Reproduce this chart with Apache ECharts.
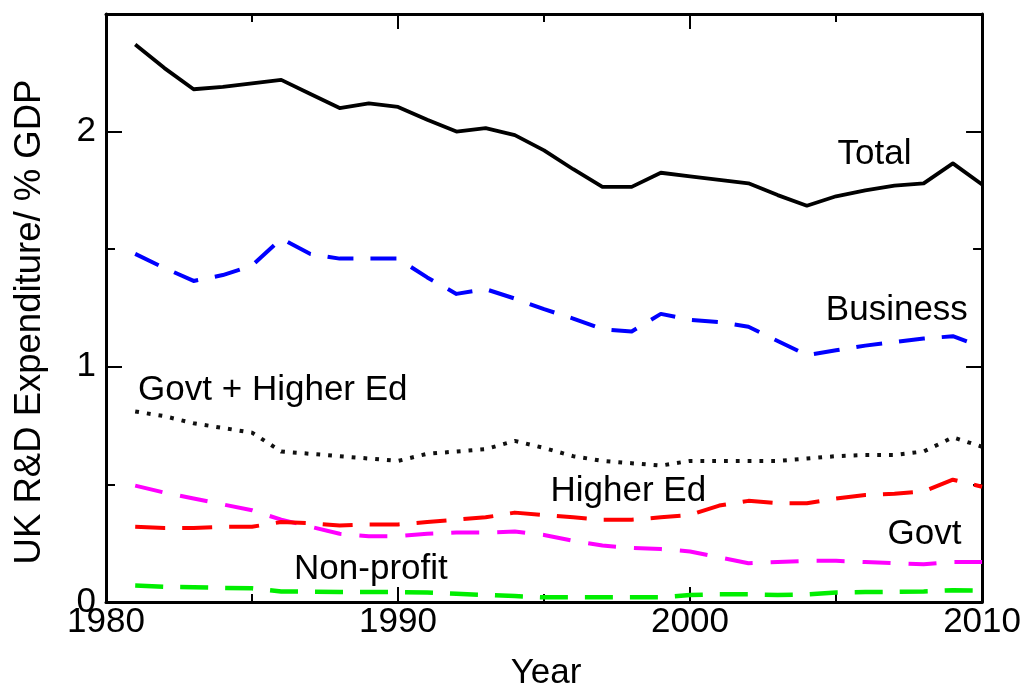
<!DOCTYPE html>
<html>
<head>
<meta charset="utf-8">
<script src="https://cdn.jsdelivr.net/npm/echarts@6/dist/echarts.min.js"></script>
<style>
html,body{margin:0;padding:0;background:#fff;}
#c{width:1024px;height:688px;}
</style>
</head>
<body>
<div id="c"></div>
<script>
const years = [1981,1982,1983,1984,1985,1986,1987,1988,1989,1990,1991,1992,1993,1994,1995,1996,1997,1998,1999,2000,2001,2002,2003,2004,2005,2006,2007,2008,2009,2010];
const total    = [2.37,2.27,2.18,2.19,2.205,2.22,2.16,2.10,2.12,2.105,2.05,2.00,2.015,1.985,1.92,1.84,1.765,1.765,1.825,1.81,1.795,1.78,1.73,1.685,1.725,1.75,1.77,1.78,1.865,1.775];
const business = [1.48,1.42,1.365,1.39,1.43,1.545,1.48,1.46,1.46,1.46,1.38,1.31,1.33,1.29,1.245,1.205,1.16,1.15,1.225,1.20,1.19,1.17,1.11,1.05,1.07,1.09,1.105,1.12,1.13,1.085];
const govtHE   = [0.81,0.79,0.76,0.74,0.72,0.64,0.63,0.62,0.61,0.60,0.63,0.64,0.65,0.685,0.655,0.62,0.60,0.59,0.58,0.60,0.60,0.60,0.60,0.61,0.62,0.625,0.625,0.64,0.70,0.66];
const govt     = [0.495,0.465,0.44,0.415,0.39,0.35,0.32,0.29,0.28,0.28,0.29,0.295,0.295,0.30,0.285,0.26,0.24,0.23,0.225,0.215,0.19,0.165,0.17,0.175,0.175,0.17,0.165,0.16,0.17,0.17];
const higherEd = [0.32,0.315,0.315,0.32,0.32,0.34,0.335,0.325,0.33,0.33,0.34,0.35,0.36,0.38,0.37,0.36,0.35,0.35,0.36,0.37,0.41,0.43,0.42,0.42,0.44,0.455,0.46,0.47,0.52,0.49];
const nonProfit= [0.07,0.065,0.063,0.06,0.058,0.045,0.044,0.043,0.043,0.042,0.04,0.035,0.03,0.025,0.02,0.02,0.02,0.02,0.02,0.03,0.033,0.033,0.03,0.032,0.04,0.042,0.043,0.045,0.05,0.048];
const xTicks = [1980,1990,2000,2010];
const yTicks = [0,1,2];
const seriesNames = ['Total','Business','Govt + Higher Ed','Govt','Higher Ed','Non-profit'];
// annotation anchors in data units: [text, year, value]
const annotations = [
  ['Total', 2005.05, 1.905],
  ['Business', 2004.65, 1.24],
  ['Govt + Higher Ed', 1981.1, 0.902],
  ['Higher Ed', 1995.22, 0.471],
  ['Govt', 2006.76, 0.286],
  ['Non-profit', 1986.44, 0.138]
];

const FONT = '"Liberation Sans", Arial, Helvetica, sans-serif';
const FS = 35;
const pairs = arr => years.map((y, i) => [y, arr[i]]);

const chart = echarts.init(document.getElementById('c'), null, {renderer: 'canvas'});

function xAx(pos, showLabel) {
  return {
    type: 'value', position: pos, min: 1980, max: 2010, interval: 10,
    axisLine: {show: true, onZero: false, lineStyle: {color: '#000', width: 3}},
    axisTick: {show: true, inside: true, length: 15, lineStyle: {color: '#000', width: 2}},
    minorTick: {show: true, splitNumber: 2, length: 8, lineStyle: {color: '#000', width: 2}},
    splitLine: {show: false}, minorSplitLine: {show: false},
    axisLabel: {show: showLabel, color: '#000', fontFamily: FONT, fontSize: FS, margin: 3,
      formatter: v => xTicks.indexOf(v) >= 0 ? String(v) : ''}
  };
}
function yAx(pos, showLabel) {
  return {
    type: 'value', position: pos, min: 0, max: 2.5, interval: 1,
    axisLine: {show: true, onZero: false, lineStyle: {color: '#000', width: 3}},
    axisTick: {show: true, inside: true, length: 16, lineStyle: {color: '#000', width: 2}},
    minorTick: {show: true, splitNumber: 2, length: 9, lineStyle: {color: '#000', width: 2}},
    splitLine: {show: false}, minorSplitLine: {show: false},
    axisLabel: {show: showLabel, color: '#000', fontFamily: FONT, fontSize: FS, margin: 10,
      formatter: v => yTicks.indexOf(v) >= 0 ? String(v) : ''}
  };
}
function line(name, data, color, width, dash) {
  return {
    name: name, type: 'line', data: pairs(data), showSymbol: false, symbol: 'none',
    animation: false, silent: true, z: 3,
    lineStyle: {color: color, width: width, type: dash, cap: 'butt', join: 'round'}
  };
}

chart.setOption({
  animation: false,
  backgroundColor: '#fff',
  grid: {left: 106, right: 37, top: 14, bottom: 86, containLabel: false},
  xAxis: [xAx('bottom', true), xAx('top', false)],
  yAxis: [yAx('left', true), yAx('right', false)],
  series: [
    line(seriesNames[0], total, '#000000', 3.8, 'solid'),
    line(seriesNames[1], business, '#0000ff', 4, [26, 17]),
    line(seriesNames[2], govtHE, '#111111', 4, [3.8, 8]),
    line(seriesNames[3], govt, '#ff00ff', 4, [28, 18]),
    line(seriesNames[4], higherEd, '#ff0000', 4, [30, 17]),
    line(seriesNames[5], nonProfit, '#00ee00', 4.5, [28, 17])
  ]
});

const g = annotations.map(a => {
  const p = chart.convertToPixel({gridIndex: 0}, [a[1], a[2]]);
  return {type: 'text', x: p[0], y: p[1], z: 10, silent: true,
    style: {text: a[0], fill: '#000', font: FS + 'px ' + FONT, textAlign: 'left', textVerticalAlign: 'middle'}};
});
g.push({type: 'text', x: 30, y: 322, rotation: Math.PI / 2, z: 10, silent: true,
  style: {text: 'UK R&D Expenditure/ % GDP', fill: '#000', font: '36.5px ' + FONT, textAlign: 'center', textVerticalAlign: 'middle'}});
g.push({type: 'text', x: 546, y: 673, z: 10, silent: true,
  style: {text: 'Year', fill: '#000', font: FS + 'px ' + FONT, textAlign: 'center', textVerticalAlign: 'middle'}});
chart.setOption({graphic: g});
</script>
</body>
</html>
